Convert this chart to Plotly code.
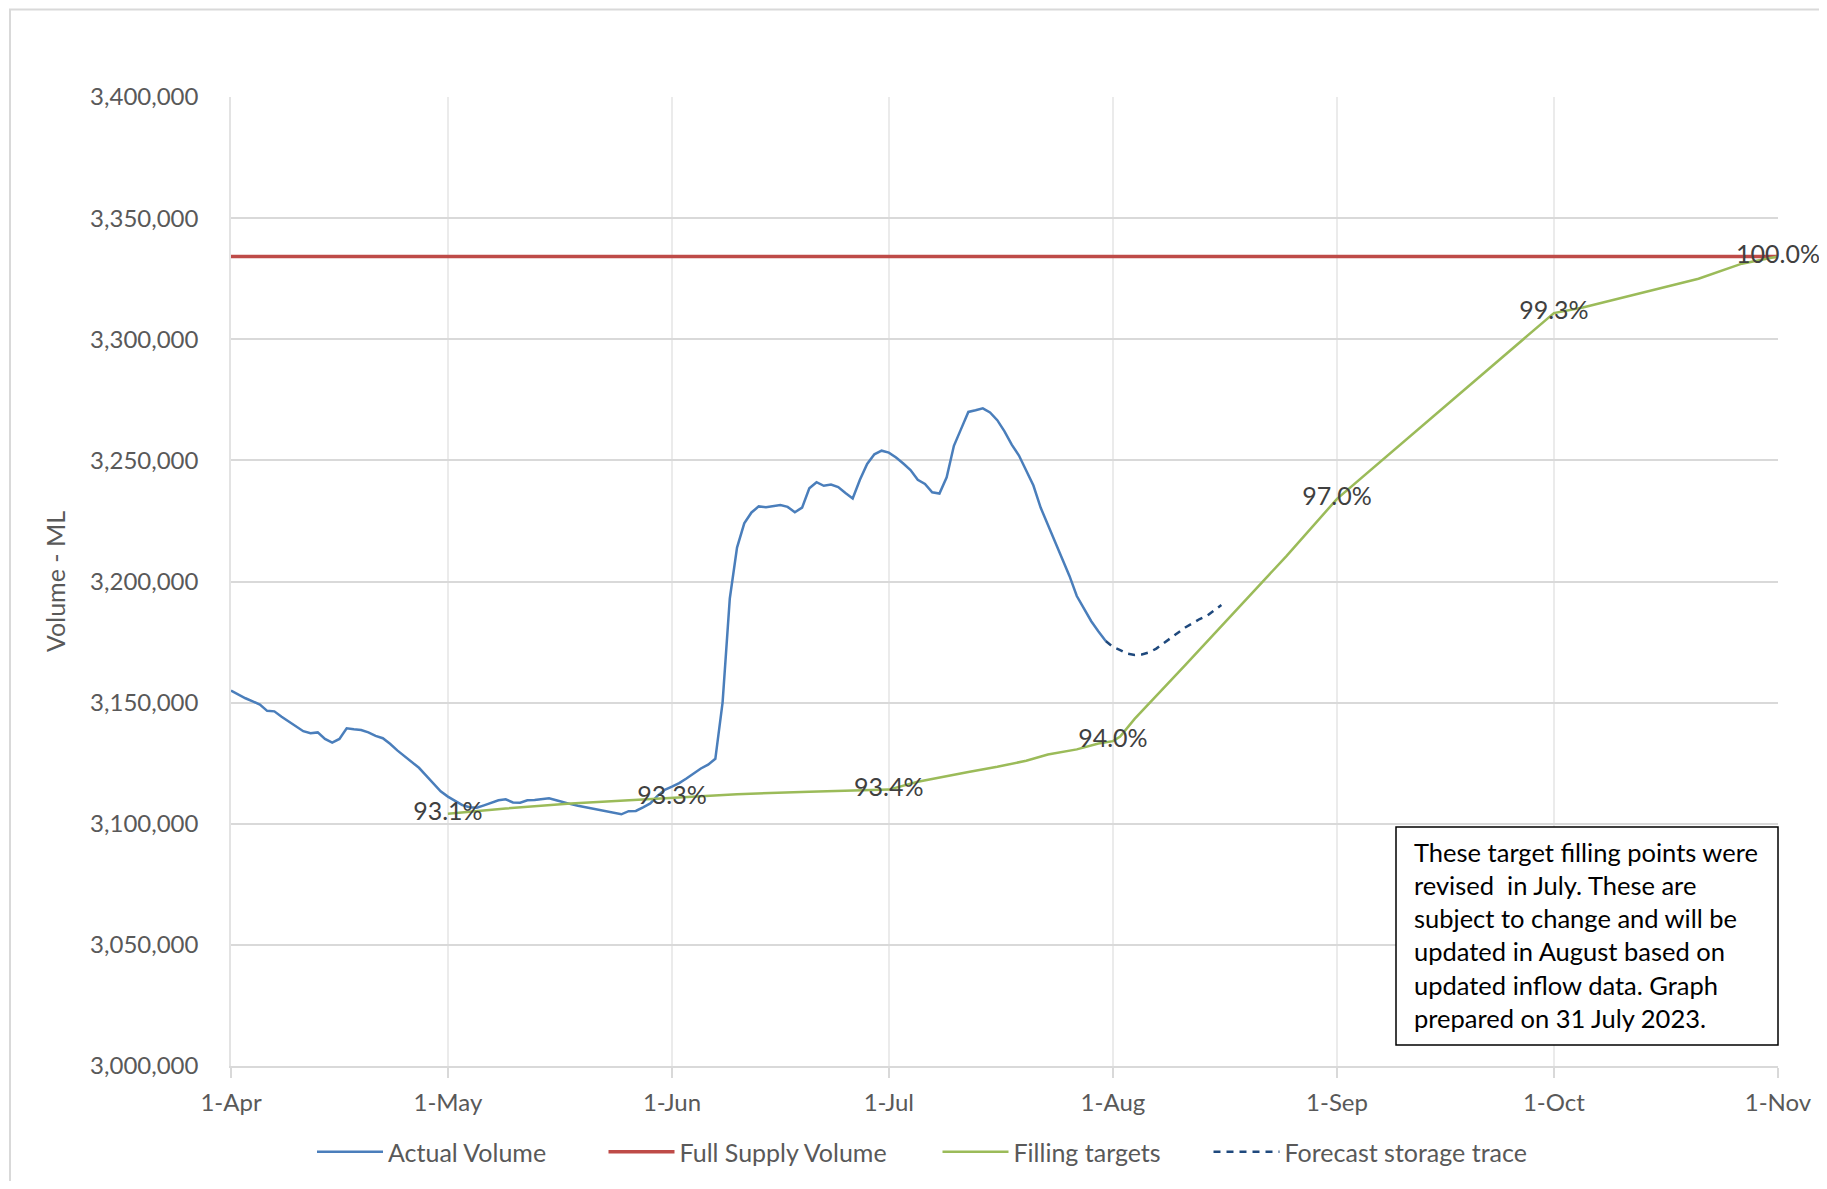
import plotly.graph_objects as go

# ---------------- data ----------------
actual_dates = [
    "2023-04-01","2023-04-02","2023-04-03","2023-04-04","2023-04-05","2023-04-06","2023-04-07","2023-04-08",
    "2023-04-09","2023-04-10","2023-04-11","2023-04-12","2023-04-13","2023-04-14","2023-04-15","2023-04-16",
    "2023-04-17","2023-04-18","2023-04-19","2023-04-20","2023-04-21","2023-04-22","2023-04-23","2023-04-24",
    "2023-04-25","2023-04-26","2023-04-27","2023-04-28","2023-04-29","2023-04-30","2023-05-01","2023-05-02",
    "2023-05-03","2023-05-04","2023-05-05","2023-05-06","2023-05-07","2023-05-08","2023-05-09","2023-05-10",
    "2023-05-11","2023-05-12","2023-05-13","2023-05-14","2023-05-15","2023-05-16","2023-05-17","2023-05-18",
    "2023-05-19","2023-05-20","2023-05-21","2023-05-22","2023-05-23","2023-05-24","2023-05-25","2023-05-26",
    "2023-05-27","2023-05-28","2023-05-29","2023-05-30","2023-05-31","2023-06-01","2023-06-02","2023-06-03",
    "2023-06-04","2023-06-05","2023-06-06","2023-06-07","2023-06-08","2023-06-09","2023-06-10","2023-06-11",
    "2023-06-12","2023-06-13","2023-06-14","2023-06-15","2023-06-16","2023-06-17","2023-06-18","2023-06-19",
    "2023-06-20","2023-06-21","2023-06-22","2023-06-23","2023-06-24","2023-06-25","2023-06-26","2023-06-27",
    "2023-06-28","2023-06-29","2023-06-30","2023-07-01","2023-07-02","2023-07-03","2023-07-04","2023-07-05",
    "2023-07-06","2023-07-07","2023-07-08","2023-07-09","2023-07-10","2023-07-11","2023-07-12","2023-07-13",
    "2023-07-14","2023-07-15","2023-07-16","2023-07-17","2023-07-18","2023-07-19","2023-07-20","2023-07-21",
    "2023-07-22","2023-07-23","2023-07-24","2023-07-25","2023-07-26","2023-07-27","2023-07-28","2023-07-29",
    "2023-07-30","2023-07-31",
]
actual_volume = [
    3155000, 3153300, 3151800, 3150500, 3149200, 3146600, 3146400, 3144200,
    3142300, 3140300, 3138200, 3137400, 3137700, 3135000, 3133500, 3135000,
    3139400, 3139000, 3138700, 3137700, 3136300, 3135300, 3133000, 3130300,
    3127800, 3125500, 3123100, 3119900, 3116800, 3113400, 3111200, 3109500,
    3107700, 3106800, 3106600, 3107600, 3108800, 3109700, 3110100, 3108800,
    3108700, 3109700, 3109800, 3110000, 3110500, 3109700, 3108800, 3108100,
    3107400, 3106800, 3106300, 3105800, 3105300, 3104600, 3103900, 3105200,
    3105300, 3106800, 3108400, 3111500, 3114000, 3115300, 3116800, 3118700,
    3120700, 3122800, 3124400, 3126800, 3150000, 3193000, 3214000, 3224000,
    3228500, 3231000, 3230700, 3231000, 3231600, 3230800, 3228600, 3230500,
    3238500, 3241000, 3239500, 3240000, 3239000, 3236500, 3234300, 3242000,
    3248500, 3252500, 3254000, 3253200, 3251200, 3248700, 3246000, 3242000,
    3240300, 3236800, 3236300, 3243000, 3256000, 3263000, 3270000, 3270700,
    3271500, 3269800, 3266600, 3262000, 3256500, 3252000, 3246000, 3239600,
    3230500, 3223500, 3216000, 3209500, 3202200, 3194000, 3189000, 3183600,
    3179400, 3175400,
]

fsv_dates = ["2023-04-01", "2023-11-01"]
fsv_volume = [3334158, 3334158]

target_dates = [
    "2023-05-01","2023-05-09","2023-05-18","2023-05-27","2023-06-01","2023-06-10","2023-06-20",
    "2023-07-01","2023-07-05","2023-07-08","2023-07-12","2023-07-16","2023-07-20","2023-07-23",
    "2023-07-27","2023-07-30","2023-08-01","2023-08-02","2023-08-04","2023-08-11","2023-08-21",
    "2023-08-25","2023-09-01","2023-09-16","2023-10-01","2023-10-05","2023-10-14","2023-10-21",
    "2023-10-27","2023-11-01",
]
target_volume = [
    3104100, 3106300, 3108400, 3110000, 3110800, 3112200, 3113200,
    3114100, 3117300, 3119100, 3121400, 3123500, 3126000, 3128600,
    3130700, 3133100, 3134100, 3136000, 3143300, 3165500, 3197500,
    3210500, 3234100, 3272500, 3310800, 3313100, 3319900, 3325000,
    3331200, 3334158,
]

label_dates = ["2023-05-01", "2023-06-01", "2023-07-01", "2023-08-01", "2023-09-01", "2023-10-01", "2023-11-01"]
label_volume = [3104100, 3110800, 3114100, 3134100, 3234100, 3310800, 3334158]
label_text = ["93.1%", "93.3%", "93.4%", "94.0%", "97.0%", "99.3%", "100.0%"]

forecast_dates = [
    "2023-07-31","2023-08-01","2023-08-02","2023-08-03","2023-08-04","2023-08-05","2023-08-06",
    "2023-08-07","2023-08-08","2023-08-09","2023-08-10","2023-08-11","2023-08-12","2023-08-13",
    "2023-08-14","2023-08-15","2023-08-16",
]
forecast_volume = [
    3175400, 3173000, 3171700, 3170200, 3169700, 3169900, 3170700,
    3172300, 3174500, 3176700, 3178900, 3181000, 3182700, 3184500,
    3185800, 3188000, 3190300,
]

note_text = ("These target filling points were<br>revised  in July. These are<br>"
             "subject to change and will be<br>updated in August based on<br>"
             "updated inflow data. Graph<br>prepared on 31 July 2023.")

# ---------------- figure ----------------
OFF = 8  # page body margin
W, H = 1811, 1173
ML, MT = 223, 89
PW, PH = 1547, 969
MR = W - ML - PW
MB = H - MT - PH


def px_x(p):
    return (p - OFF - ML) / PW


def px_y(p):
    return (OFF + MT + PH - p) / PH


def cx(p):
    return (p - OFF) / W


def cy(p):
    return (OFF + H - p) / H


FONT = "Lato, 'Open Sans', sans-serif"
fig = go.Figure()

fig.add_trace(go.Scatter(x=actual_dates, y=actual_volume, mode="lines", name="Actual Volume",
                         line=dict(color="#4A7EBB", width=2.5), legend="legend"))
fig.add_trace(go.Scatter(x=fsv_dates, y=fsv_volume, mode="lines", name="Full Supply Volume",
                         line=dict(color="#BE4B48", width=3.5), legend="legend2"))
fig.add_trace(go.Scatter(x=target_dates, y=target_volume, mode="lines", name="Filling targets",
                         line=dict(color="#9BBB59", width=2.5), legend="legend3"))
fig.add_trace(go.Scatter(x=forecast_dates, y=forecast_volume, mode="lines", name="Forecast storage trace",
                         line=dict(color="#1F497D", width=2.5, dash="7px,6px"), legend="legend4"))
fig.add_trace(go.Scatter(x=label_dates, y=label_volume, mode="text", text=label_text,
                         textposition="middle center", showlegend=False, cliponaxis=False,
                         textfont=dict(family=FONT, size=25, color="#404040")))

legend_common = dict(orientation="h", xanchor="left", yanchor="middle",
                     xref="container", yref="container", y=cy(1152),
                     bgcolor="rgba(0,0,0,0)", borderwidth=0, itemwidth=66,
                     font=dict(family=FONT, size=25, color="#595959"))
sym_starts = [312, 603.5, 937.5, 1208.5]

fig.update_layout(
    width=W, height=H, autosize=False,
    margin=dict(l=ML, r=MR, t=MT, b=MB, pad=0),
    paper_bgcolor="white", plot_bgcolor="white",
    font=dict(family=FONT, color="#595959", size=24),
    legend=dict(x=cx(sym_starts[0]), **legend_common),
    legend2=dict(x=cx(sym_starts[1]), **legend_common),
    legend3=dict(x=cx(sym_starts[2]), **legend_common),
    legend4=dict(x=cx(sym_starts[3]), **legend_common),
    xaxis=dict(
        type="date", range=["2023-04-01", "2023-11-01"],
        tick0="2023-04-01", dtick="M1", tickformat="%-d-%b",
        showgrid=True, gridcolor="#ebebeb", gridwidth=1.5,
        showline=True, linecolor="#d9d9d9", linewidth=2,
        ticks="outside", ticklen=10, tickcolor="#d9d9d9", tickwidth=1.5,
        ticklabelstandoff=4,
        tickfont=dict(family=FONT, size=24, color="#595959"),
        zeroline=False, automargin=False,
    ),
    yaxis=dict(
        range=[3000000, 3400000], dtick=50000, tickformat=",d",
        showgrid=True, gridcolor="#d9d9d9", gridwidth=2,
        showline=True, linecolor="#e3e3e3", linewidth=1.5,
        ticks="", ticklabelstandoff=26,
        tickfont=dict(family=FONT, size=24, color="#595959"),
        title=dict(text="Volume - ML", standoff=17, font=dict(family=FONT, size=25, color="#595959")),
        zeroline=False, automargin=False,
    ),
    shapes=[
        dict(type="rect", xref="paper", yref="paper",
             x0=px_x(10), x1=1.2, y0=-0.4, y1=px_y(9.5),
             line=dict(color="#d9d9d9", width=2), fillcolor="rgba(0,0,0,0)", layer="below"),
        dict(type="rect", xref="paper", yref="paper",
             x0=px_x(1396), x1=px_x(1778), y0=px_y(1045), y1=px_y(827),
             line=dict(color="#000000", width=1.5), fillcolor="white", layer="above"),
    ],
    annotations=[
        dict(xref="paper", yref="paper", x=px_x(1412), y=px_y(935),
             xanchor="left", yanchor="middle", align="left", showarrow=False,
             text=note_text, font=dict(family=FONT, size=25.5, color="#000000")),
    ],
)

fig.write_html("out.html")
